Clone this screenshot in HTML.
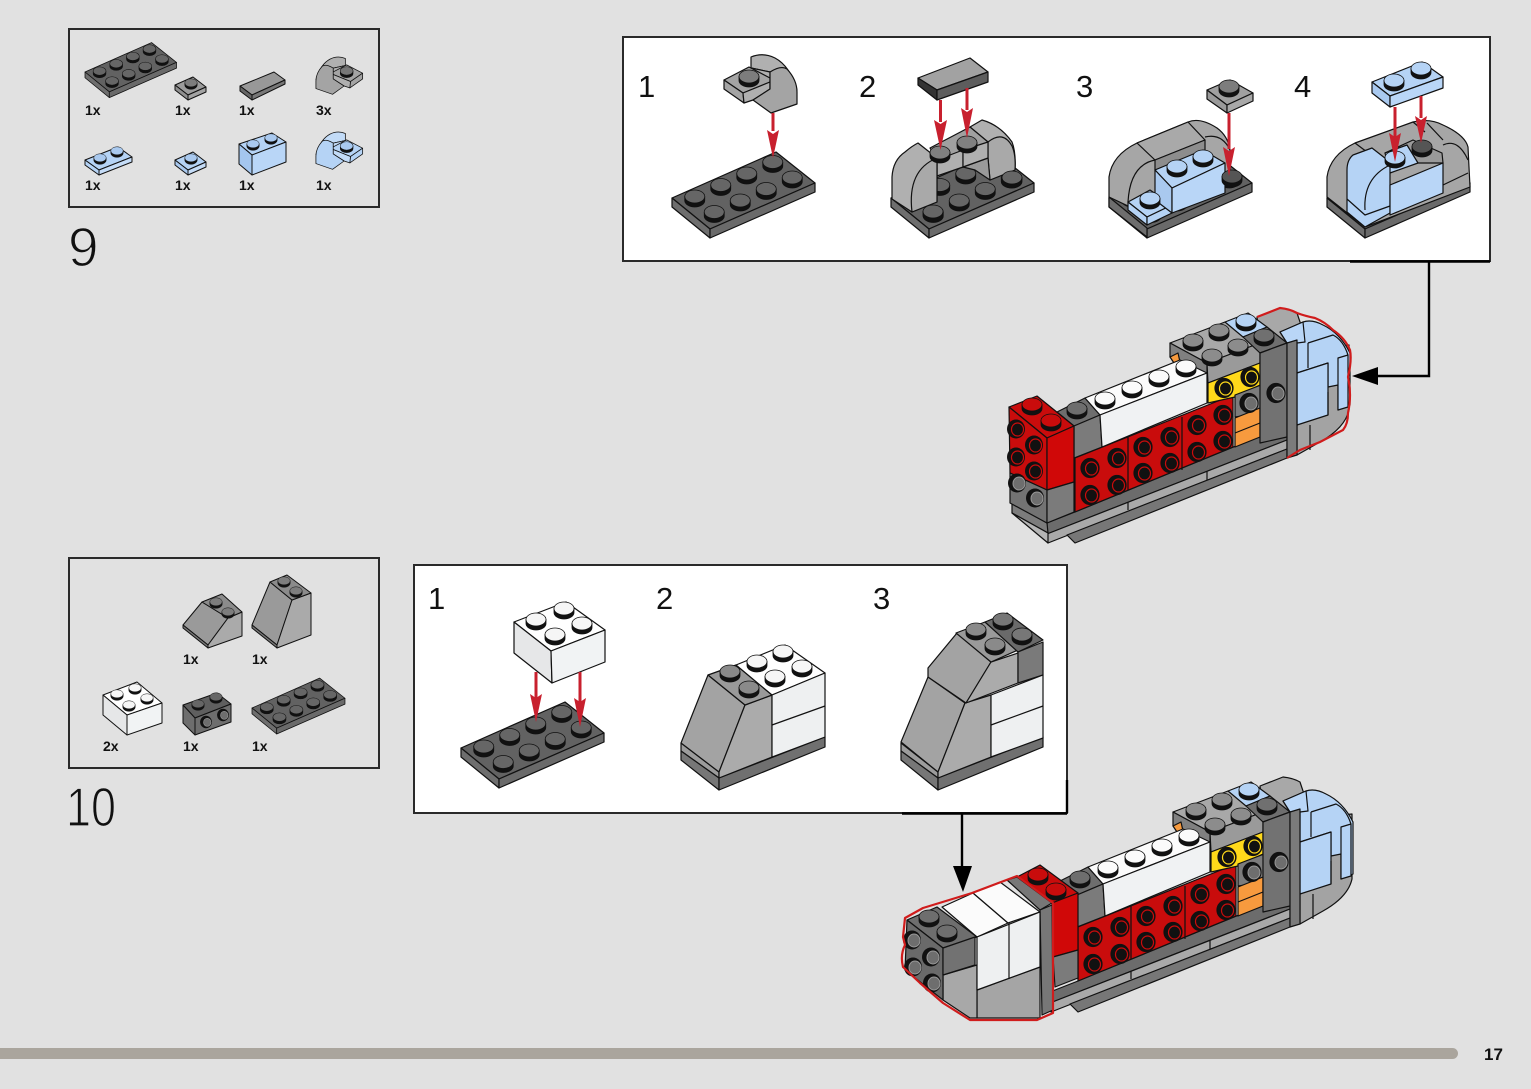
<!DOCTYPE html>
<html><head><meta charset="utf-8"><style>
html,body{margin:0;padding:0;background:#e1e1e1}
svg{display:block}
text{font-family:"Liberation Sans",sans-serif;fill:#111;stroke:none}
.q{font-size:14px;font-weight:bold}
.n{font-size:31px}
.b{font-size:55px;stroke:#e1e1e1;stroke-width:1.3px}
</style></head><body>
<svg xmlns="http://www.w3.org/2000/svg" width="1531" height="1089" viewBox="0 0 1531 1089">
<defs>
<g id="s"><path d="M-10,-3.5V.5A10,6.5 0 0 0 10,.5V-3.5Z" fill="#111" stroke="#111" stroke-width=".8"/><ellipse cy="-3.5" rx="10" ry="6.5" stroke="#111" stroke-width=".8"/></g>
<g id="p24" stroke="#111" stroke-width="1.2" stroke-linejoin="round">
<polygon points="0,0 104,-46 143,-15 38,31" fill="#626262"/>
<polygon points="0,0 38,31 38,40 0,9" fill="#6e6e6e"/>
<polygon points="38,31 143,-15 143,-6 38,40" fill="#6a6a6a"/>
<g fill="#666">
<use href="#s" x="100.75" y="-32.5"/><use href="#s" x="74.75" y="-21"/><use href="#s" x="48.75" y="-9.5"/><use href="#s" x="120.25" y="-17"/><use href="#s" x="22.75" y="2"/><use href="#s" x="94.25" y="-5.5"/><use href="#s" x="68.25" y="6"/><use href="#s" x="42.25" y="17.5"/>
</g></g>
<g id="cv" stroke="#111" stroke-width="1.2" stroke-linejoin="round">
<path d="M751,68V57Q763,52 775,58Q790,66 797,90L790,80L770,72Z" style="fill:var(--b)"/>
<polygon points="751,68 770,72 770,85 751,80" style="fill:var(--b)"/>
<polygon points="724,80 749,67 770,78 770,82 743,93" style="fill:var(--a)"/>
<polygon points="724,80 743,93 744,103 724,89" style="fill:var(--a)"/>
<polygon points="743,93 770,82 770,89 753,100 744,103" style="fill:var(--b)"/>
<path d="M770,72Q781,65 787,69Q797,80 797,92V104L771,113L753,100L770,89Z" style="fill:var(--a)"/>
<use href="#s" x="749" y="80" style="fill:var(--c)"/>
</g>
<g id="hr"><ellipse rx="9" ry="9.5" fill="#111"/><ellipse cx="1.5" cy=".5" rx="6" ry="6.5" fill="none" stroke="#c90c0c" stroke-width="1.2"/></g>
<g id="hy"><ellipse rx="9" ry="9.5" fill="#111"/><ellipse cx="1.5" cy=".5" rx="6" ry="6.5" fill="none" stroke="#ffd91a" stroke-width="1.2"/></g>
<g id="hg"><ellipse rx="9" ry="9.5" fill="#111"/><ellipse cx="2" cy=".5" rx="6" ry="6.5" fill="#6e6e6e" stroke="#999" stroke-width="1"/></g>
<g id="body" stroke="#111" stroke-width="1.2" stroke-linejoin="round">
<path d="M1257,317L1280,308Q1290,309 1297,313L1306,340L1260,345Z" fill="#a8a8a8"/>
<path d="M1297,350L1349,345V410Q1345,428 1320,442L1297,455Z" fill="#a3a3a3"/>
<path d="M1280,332L1303,322Q1312,319 1323,325Q1340,333 1350,353V405L1338,410V385L1328,387V363L1297,373V343H1287Z" fill="#b5d3f5"/>
<polygon points="1280,332 1303,322 1305,342 1297,343 1287,343" fill="#b9d6f7"/>
<path d="M1308,343L1333,335Q1343,340 1348,355M1308,343V368" fill="none"/>
<polygon points="1297,373 1328,363 1328,415 1297,425" fill="#b5d3f5"/>
<polygon points="1338,358 1348,355 1348,407 1338,410" fill="#b5d3f5"/>
<path d="M1310,425V450M1328,415V392" fill="none"/>
<polygon points="1047,523 1075,512 1287,425 1287,440 1047,534" fill="#6c6c6c"/>
<polygon points="1047,534 1287,440 1287,449 1048,543" fill="#a9a9a9"/>
<polygon points="1067,535 1287,449 1287,458 1075,543" fill="#777"/>
<path d="M1128,502V510M1207,471V480" fill="none"/>
<polygon points="1170,343 1225,322 1260,343 1207,363" fill="#a8a8a8"/>
<polygon points="1170,343 1207,363 1207,382 1170,357" fill="#808080"/>
<polygon points="1170,357 1178,353 1180,362 1176,366" fill="#f79a3e"/>
<polygon points="1207,363 1260,343 1260,363 1208,383" fill="#9a9a9a"/>
<polygon points="1225,322 1248,313 1267,327 1243,337" fill="#b5d3f5"/>
<polygon points="1243,337 1267,327 1287,343 1260,353" fill="#6e6e6e"/>
<polygon points="1057,412 1085,398 1100,415 1074,426" fill="#6e6e6e"/>
<polygon points="1074,426 1100,415 1102,447 1074,458" fill="#7b7b7b"/>
<polygon points="1085,398 1180,360 1207,373 1100,415" fill="#fbfbfb"/>
<polygon points="1100,415 1207,373 1207,403 1102,447" fill="#f0f2f3"/>
<polygon points="1075,458 1233,395 1233,447 1075,512" fill="#c90c0c"/>
<path d="M1128,437V490M1182,417V470" fill="none"/>
<polygon points="1208,383 1260,363 1260,385 1235,397 1208,403" fill="#ffd91a"/>
<polygon points="1235,395 1287,375 1287,410 1235,417" fill="#7c7c7c"/>
<polygon points="1235,418 1260,408 1260,437 1235,447" fill="#f79a3e"/>
<path d="M1235,433L1260,423" fill="none"/>
<polygon points="1260,353 1287,343 1287,437 1260,443" fill="#727272"/>
<polygon points="1287,343 1297,340 1297,455 1287,458" fill="#7b7b7b"/>
<g fill="#111">
<use href="#hr" x="1090" y="468"/><use href="#hr" x="1117" y="458"/><use href="#hr" x="1090" y="495"/><use href="#hr" x="1117" y="485"/>
<use href="#hr" x="1143" y="447"/><use href="#hr" x="1170" y="437"/><use href="#hr" x="1143" y="473"/><use href="#hr" x="1170" y="463"/>
<use href="#hr" x="1197" y="425"/><use href="#hr" x="1223" y="415"/><use href="#hr" x="1197" y="452"/><use href="#hr" x="1223" y="441"/>
<use href="#hy" x="1224" y="388"/><use href="#hy" x="1250" y="377"/><use href="#hg" x="1249" y="403"/><use href="#hg" x="1276" y="393"/>
</g>
<use href="#s" x="1077" y="412" fill="#6e6e6e"/>
<g fill="#fbfbfb"><use href="#s" x="1186" y="370"/><use href="#s" x="1159" y="380"/><use href="#s" x="1132" y="391"/><use href="#s" x="1105" y="402"/></g>
<g fill="#8c8c8c"><use href="#s" x="1219" y="334"/><use href="#s" x="1193" y="344"/><use href="#s" x="1238" y="349"/><use href="#s" x="1212" y="359"/></g>
<use href="#s" x="1246" y="324" fill="#b5d3f5"/><use href="#s" x="1264" y="339" fill="#707070"/>
</g>
</defs>
<rect width="1531" height="1089" fill="#e1e1e1"/>
<rect x="-10" y="1048" width="1468" height="11" rx="5.5" fill="#aaa59d"/>
<text x="1484" y="1060" style="font-size:17px;font-weight:bold">17</text>

<rect x="69" y="29" width="310" height="178" fill="none" stroke="#2a2a2a" stroke-width="2"/>
<rect x="69" y="558" width="310" height="210" fill="none" stroke="#2a2a2a" stroke-width="2"/>
<rect x="623" y="37" width="867" height="224" fill="#fff" stroke="#2a2a2a" stroke-width="2"/>
<rect x="414" y="565" width="653" height="248" fill="#fff" stroke="#2a2a2a" stroke-width="2"/>

<text class="b" x="68" y="266">9</text>
<text class="b" x="66" y="826" textLength="50" lengthAdjust="spacingAndGlyphs">10</text>
<g><text class="n" x="638" y="97">1</text><text class="n" x="859" y="97">2</text><text class="n" x="1076" y="97">3</text><text class="n" x="1294" y="97">4</text>
<text class="n" x="428" y="609">1</text><text class="n" x="656" y="609">2</text><text class="n" x="873" y="609">3</text></g>
<g><text class="q" x="85" y="115">1x</text><text class="q" x="175" y="115">1x</text><text class="q" x="239" y="115">1x</text><text class="q" x="316" y="115">3x</text>
<text class="q" x="85" y="190">1x</text><text class="q" x="175" y="190">1x</text><text class="q" x="239" y="190">1x</text><text class="q" x="316" y="190">1x</text>
<text class="q" x="183" y="664">1x</text><text class="q" x="252" y="664">1x</text><text class="q" x="103" y="751">2x</text><text class="q" x="183" y="751">1x</text><text class="q" x="252" y="751">1x</text></g>

<!-- Parts box 9 -->
<use href="#p24" transform="translate(85,72) scale(.64)"/>
<g stroke="#111" stroke-width="1" stroke-linejoin="round">
<polygon points="175,85 193,77 206,87 188,95" fill="#9c9c9c"/><polygon points="175,85 188,95 188,100 175,90" fill="#8f8f8f"/><polygon points="188,95 206,87 206,92 188,100" fill="#a3a3a3"/>
<use href="#s" transform="translate(191,85) scale(.62)" fill="#7d7d7d"/>
<polygon points="240,86 274,72 285,80 252,95" fill="#989898"/><polygon points="240,86 252,95 252,100 240,91" fill="#666"/><polygon points="252,95 285,80 285,84 252,100" fill="#777"/>
<polygon points="85,160 118,147 132,157 99,170" fill="#b5d3f5"/><polygon points="85,160 99,170 99,175 85,165" fill="#b5d3f5"/><polygon points="99,170 132,157 132,162 99,175" fill="#c5dcf7"/>
<use href="#s" transform="translate(100,160) scale(.62)" fill="#a9c9ef"/><use href="#s" transform="translate(117,153) scale(.62)" fill="#a9c9ef"/>
<polygon points="175,160 193,152 206,162 188,170" fill="#b5d3f5"/><polygon points="175,160 188,170 188,175 175,165" fill="#a9c9ef"/><polygon points="188,170 206,162 206,167 188,175" fill="#c5dcf7"/>
<use href="#s" transform="translate(191,160) scale(.62)" fill="#a9c9ef"/>
<polygon points="239,144 272,133 286,142 252,155" fill="#b5d3f5"/><polygon points="239,144 252,155 252,175 239,164" fill="#a4c6ee"/><polygon points="252,155 286,142 286,162 252,175" fill="#b9d6f7"/>
<use href="#s" transform="translate(253,146) scale(.62)" fill="#a9c9ef"/><use href="#s" transform="translate(271,140) scale(.62)" fill="#a9c9ef"/>
</g>
<use href="#cv" transform="translate(826,22) scale(-.64,.64)" style="--a:#a4a4a4;--b:#b0b0b0;--c:#777"/>
<use href="#cv" transform="translate(826,97) scale(-.64,.64)" style="--a:#b5d3f5;--b:#c2dbf7;--c:#a9c9ef"/>

<!-- Parts box 10 -->
<use href="#p24" transform="translate(252,708) scale(.65)"/>
<g stroke="#111" stroke-width="1" stroke-linejoin="round">
<polygon points="183,625 202,602 228,618 208,645" fill="#9a9a9a"/><polygon points="183,625 208,645 208,648 183,628" fill="#777"/><polygon points="228,618 242,612 242,636 208,648 208,645" fill="#aaa"/>
<polygon points="202,602 222,594 242,612 228,618" fill="#8b8b8b"/>
<use href="#s" transform="translate(216,604) scale(.62)" fill="#7d7d7d"/><use href="#s" transform="translate(228,614) scale(.62)" fill="#7d7d7d"/>
<polygon points="252,625 270,582 292,600 277,645" fill="#9a9a9a"/><polygon points="252,625 277,645 277,648 252,628" fill="#777"/><polygon points="292,600 311,593 311,635 277,648 277,645" fill="#aaa"/>
<polygon points="270,582 287,575 311,593 292,600" fill="#8b8b8b"/>
<use href="#s" transform="translate(284,583) scale(.62)" fill="#7d7d7d"/><use href="#s" transform="translate(296,593) scale(.62)" fill="#7d7d7d"/>
<polygon points="103,695 137,682 162,703 127,715" fill="#fff"/><polygon points="103,695 127,715 127,735 103,715" fill="#e6e7e8"/><polygon points="127,715 162,703 162,723 127,735" fill="#f1f3f4"/>
<g fill="#f6f6f6"><use href="#s" transform="translate(135,690) scale(.62)"/><use href="#s" transform="translate(117,696) scale(.62)"/><use href="#s" transform="translate(147,700) scale(.62)"/><use href="#s" transform="translate(129,707) scale(.62)"/></g>
<polygon points="183,705 217,693 231,704 195,718" fill="#5f5f5f"/><polygon points="183,705 195,718 195,735 183,723" fill="#6e6e6e"/><polygon points="195,718 231,704 231,722 195,735" fill="#6e6e6e"/>
<use href="#s" transform="translate(216,699) scale(.62)" fill="#666"/><use href="#s" transform="translate(198,706) scale(.62)" fill="#666"/>
<use href="#hg" transform="translate(206,722) scale(.62)"/><use href="#hg" transform="translate(223,715) scale(.62)"/>
</g>

<!-- Step 9.1 -->
<use href="#p24" x="672" y="198"/>
<use href="#cv" style="--a:#a4a4a4;--b:#b0b0b0;--c:#7d7d7d"/>

<!-- Step 9.2 -->
<use href="#p24" x="891" y="198"/>
<g stroke="#111" stroke-width="1.2" stroke-linejoin="round">
<path d="M970,127L982,120Q1000,125 1012,142Q1016,152 1015,170L990,180L988,142Z" fill="#b0b0b0"/>
<path d="M988,142Q1003,130 1012,146Q1016,155 1015,170L990,180L988,158Z" fill="#a9a9a9"/>
<polygon points="963,167 988,158 990,180 975,170" fill="#9a9a9a"/>
<polygon points="930,148 970,127 988,142 963,158 937,160" fill="#a0a0a0"/>
<polygon points="937,160 963,150 963,167 937,176" fill="#b0b0b0"/>
<polygon points="963,150 988,142 988,158 963,167" fill="#b0b0b0"/>
<path d="M892,177Q893,160 905,152Q912,146 918,143L937,158V202L912,212L892,199Z" fill="#b0b0b0"/>
<path d="M937,158Q907,170 912,212L937,202Z" fill="#a9a9a9"/>
</g>
<g fill="#666"><use href="#s" x="1012" y="181"/><use href="#s" x="933" y="215"/></g>
<g fill="#808080"><use href="#s" x="967" y="146"/><use href="#s" x="940" y="156"/></g>
<g stroke="#111" stroke-width="1.2" stroke-linejoin="round">
<polygon points="918,78 970,58 988,72 937,90" fill="#a2a2a2"/><polygon points="918,78 937,90 937,100 918,85" fill="#333"/><polygon points="937,90 988,72 988,82 937,100" fill="#5d5d5d"/>
</g>

<!-- Step 9.3 -->
<use href="#p24" x="1109" y="198"/>
<g stroke="#111" stroke-width="1.2" stroke-linejoin="round">
<path d="M1109,197V177Q1112,155 1137,143L1188,122Q1200,117 1217,128Q1228,136 1230,150V170L1172,200L1147,215Z" fill="#a6a6a6"/>
<polygon points="1137,143 1188,122 1205,140 1155,160" fill="#a9a9a9"/>
<polygon points="1155,160 1205,140 1205,150 1155,170" fill="#8d8d8d"/>
<path d="M1155,160Q1130,165 1128,202M1205,137Q1222,133 1230,150" fill="none"/>
<polygon points="1109,197 1147,228 1147,237 1109,207" fill="#6e6e6e"/>
<polygon points="1128,202 1150,190 1172,205 1147,217" fill="#b5d3f5"/><polygon points="1128,202 1147,217 1147,225 1128,210" fill="#b5d3f5"/><polygon points="1147,217 1172,205 1172,213 1147,225" fill="#b5d3f5"/>
<polygon points="1155,170 1203,150 1225,163 1172,188" fill="#b5d3f5"/><polygon points="1155,170 1172,188 1172,213 1155,200" fill="#a9c9ef"/><polygon points="1172,188 1225,163 1225,193 1172,213" fill="#b9d6f7"/>
<polygon points="1207,90 1230,80 1253,93 1227,105" fill="#a0a0a0"/><polygon points="1207,90 1227,105 1227,113 1207,99" fill="#9a9a9a"/><polygon points="1227,105 1253,93 1253,101 1227,113" fill="#a8a8a8"/>
</g>
<use href="#s" x="1232" y="180" fill="#555"/>
<g fill="#b5d3f5"><use href="#s" x="1203" y="160"/><use href="#s" x="1177" y="170"/><use href="#s" x="1150" y="202"/></g>
<use href="#s" x="1229" y="90" fill="#7d7d7d"/>

<!-- Step 9.4 -->
<use href="#p24" x="1327" y="198"/>
<g stroke="#111" stroke-width="1.2" stroke-linejoin="round">
<path d="M1327,197V177Q1330,155 1355,143L1413,122Q1430,118 1443,125Q1465,135 1468,147L1470,187L1365,227Z" fill="#a6a6a6"/>
<path d="M1355,143L1367,152M1413,122L1425,132M1427,123L1443,140M1443,145Q1458,138 1468,160M1443,185L1468,173" fill="none"/>
<polygon points="1385,153 1413,140 1442,153 1443,163 1417,163" fill="#9a9a9a"/>
<polygon points="1385,153 1407,145 1418,163 1390,173" fill="#b5d3f5"/>
<path d="M1347,200V170Q1347,160 1353,155L1372,148L1390,162V213L1365,227L1347,212Z" fill="#b5d3f5"/>
<path d="M1365,210Q1363,178 1390,165M1347,199L1365,215L1390,206" fill="none"/>
<polygon points="1390,185 1443,163 1443,193 1390,215" fill="#b9d6f7"/>
<polygon points="1372,82 1422,62 1443,77 1390,96" fill="#b5d3f5"/><polygon points="1372,82 1390,96 1390,107 1372,93" fill="#a9c9ef"/><polygon points="1390,96 1443,77 1443,88 1390,107" fill="#b9d6f7"/>
</g>
<use href="#s" x="1422" y="150" fill="#555"/><use href="#s" x="1395" y="161" fill="#b5d3f5"/>
<g fill="#b5d3f5"><use href="#s" x="1421" y="72"/><use href="#s" x="1394" y="84"/></g>

<!-- Red arrows top -->
<g fill="#c8202e" stroke="none">
<path d="M771.5,113h3v18h-3z"/><polygon points="767,130 773,134 779,130 773,158"/>
<path d="M939,100h3v22h-3z"/><polygon points="934,120 940.5,124 947,120 940.5,150"/>
<path d="M965.5,88h3v22h-3z"/><polygon points="961,108 967,112 973,108 967,138"/>
<path d="M1227.5,113h3v36h-3z"/><polygon points="1223,147 1229,151 1235,147 1229,176"/>
<path d="M1393.5,107h3v36h-3z"/><polygon points="1389,133 1395,137 1401,133 1395,162"/>
<path d="M1419.5,96h3v22h-3z"/><polygon points="1415,116 1421,120 1427,116 1421,143"/>
</g>

<!-- Step 10.1 -->
<use href="#p24" x="461" y="748"/>
<g stroke="#111" stroke-width="1.2" stroke-linejoin="round">
<polygon points="514,622 566,602 605,630 551,651" fill="#fff"/><polygon points="514,622 551,651 552,683 514,653" fill="#e6e7e8"/><polygon points="551,651 605,630 605,662 552,683" fill="#f1f3f4"/>
</g>
<g fill="#f6f6f6"><use href="#s" x="564" y="612"/><use href="#s" x="536" y="623"/><use href="#s" x="582" y="627"/><use href="#s" x="555" y="638"/></g>
<g fill="#c8202e"><path d="M534.5,672h3v30h-3z"/><polygon points="530,694 536,698 542,694 536,722"/>
<path d="M578.5,672h3v30h-3z"/><polygon points="574,698 580,702 586,698 580,727"/></g>

<!-- Step 10.2 -->
<g stroke="#111" stroke-width="1.2" stroke-linejoin="round">
<polygon points="681,743 719,772 719,778 681,751" fill="#9c9c9c"/>
<polygon points="681,751 719,778 719,790 681,760" fill="#777"/>
<polygon points="719,778 825,737 825,747 719,790" fill="#707070"/>
<polygon points="708,675 681,743 719,772 745,705" fill="#a3a3a3"/>
<polygon points="745,705 772,695 772,757 719,778 719,772" fill="#ababab"/>
<polygon points="708,675 736,665 772,695 745,705" fill="#9a9a9a"/>
<polygon points="736,665 785,645 825,673 772,695" fill="#fff"/>
<polygon points="772,695 825,673 825,737 772,757" fill="#eef0f1"/>
<path d="M772,725L825,706" fill="none"/>
</g>
<g fill="#8a8a8a"><use href="#s" x="730" y="675"/><use href="#s" x="749" y="691"/></g>
<g fill="#f6f6f6"><use href="#s" x="783" y="655"/><use href="#s" x="757" y="665"/><use href="#s" x="802" y="670"/><use href="#s" x="775" y="680"/></g>

<!-- Step 10.3 -->
<g stroke="#111" stroke-width="1.2" stroke-linejoin="round">
<polygon points="901,743 938,772 938,778 901,751" fill="#9c9c9c"/>
<polygon points="901,751 938,778 938,790 901,760" fill="#777"/>
<polygon points="938,778 1043,737 1043,747 938,790" fill="#707070"/>
<polygon points="901,742 928,677 965,703 938,772" fill="#a3a3a3"/>
<polygon points="965,703 991,695 991,757 938,778 938,772" fill="#ababab"/>
<polygon points="928,668 957,633 991,662 966,703 928,677" fill="#a3a3a3"/>
<polygon points="991,662 1018,653 1018,683 966,703" fill="#ababab"/>
<polygon points="956,633 985,622 1018,650 991,662" fill="#9a9a9a"/>
<polygon points="985,622 1007,613 1043,640 1018,652" fill="#6a6a6a"/>
<polygon points="1018,652 1043,642 1043,675 1018,683" fill="#7a7a7a"/>
<polygon points="991,695 1043,675 1043,738 991,757" fill="#eef0f1"/>
<path d="M991,725L1043,706" fill="none"/>
</g>
<g fill="#777"><use href="#s" x="1003" y="623"/><use href="#s" x="1022" y="638"/></g>
<g fill="#8a8a8a"><use href="#s" x="976" y="633"/><use href="#s" x="995" y="648"/></g>

<!-- Assembly 1 -->
<use href="#body"/>
<g stroke="#111" stroke-width="1.2" stroke-linejoin="round">
<polygon points="1012,503 1047,523 1048,533 1012,513" fill="#7c7c7c"/>
<polygon points="1012,513 1048,533 1048,543" fill="#b5b5b5"/>
<polygon points="1009,407 1037,396 1074,426 1047,438" fill="#c90c0c"/>
<polygon points="1009,407 1047,438 1047,490 1010,473" fill="#c90c0c"/>
<polygon points="1047,438 1074,426 1074,482 1047,490" fill="#d00808"/>
<polygon points="1010,473 1047,490 1047,523 1010,503" fill="#737373"/>
<polygon points="1047,490 1074,482 1074,512 1047,523" fill="#7b7b7b"/>
</g>
<use href="#s" x="1032" y="408" fill="#c90c0c"/><use href="#s" x="1051" y="424" fill="#c90c0c"/>
<use href="#hr" x="1016" y="429"/><use href="#hr" x="1034" y="445"/><use href="#hr" x="1016" y="457"/><use href="#hr" x="1034" y="471"/><use href="#hg" x="1017" y="483"/><use href="#hg" x="1035" y="498"/>
<path d="M1257,317L1280,308Q1290,309 1297,313Q1305,316 1315,318Q1325,322 1333,330Q1345,338 1350,350Q1352,360 1348,377Q1352,395 1348,413Q1348,424 1343,430L1320,442L1300,450L1287,458" fill="none" stroke="#d01c1c" stroke-width="2.2"/>

<!-- Assembly 2 -->
<use href="#body" x="3" y="469"/>
<g stroke="#111" stroke-width="1.2" stroke-linejoin="round">
<polygon points="1017,877 1040,865 1078,893 1052,903" fill="#c90c0c"/>
<polygon points="1052,903 1078,893 1078,950 1053,957" fill="#d00808"/>
<polygon points="1053,957 1078,950 1078,978 1055,987" fill="#7b7b7b"/>
<polygon points="1007,880 1017,877 1052,903 1040,910" fill="#777"/>
<polygon points="1040,910 1052,905 1053,1010 1042,1015" fill="#777"/>
<polygon points="977,990 1040,967 1040,1018 977,1018" fill="#a5a5a5"/>
<polygon points="943,975 977,965 977,1018 970,1018 943,1000" fill="#a8a8a8"/>
<polygon points="942,907 973,893 1008,923 977,937" fill="#fbfbfb"/>
<polygon points="973,893 1000,882 1040,912 1008,923" fill="#fbfbfb"/>
<polygon points="977,937 1040,912 1040,967 977,990" fill="#eef0f1"/>
<path d="M1009,923V979" fill="none"/>
<polygon points="907,920 937,907 977,937 943,948" fill="#6e6e6e"/>
<polygon points="907,920 943,948 943,1000 905,970" fill="#6a6a6a"/>
<polygon points="943,948 975,937 975,965 943,975" fill="#727272"/>
</g>
<use href="#s" x="1038" y="878" fill="#c90c0c"/><use href="#s" x="1056" y="893" fill="#c90c0c"/>
<use href="#s" x="929" y="920" fill="#6e6e6e"/><use href="#s" x="947" y="935" fill="#6e6e6e"/>
<use href="#hg" x="912" y="940"/><use href="#hg" x="931" y="957"/><use href="#hg" x="913" y="967"/><use href="#hg" x="932" y="983"/>
<path d="M905,918L923,908L972,893L1017,876L1053,903V1013L1037,1020L970,1020L943,1003L920,983L903,967Q900,955 905,945L903,937Z" fill="none" stroke="#d01c1c" stroke-width="2.2" stroke-linejoin="round"/>

<!-- Connectors -->
<path d="M1350,261.5H1490M1429,262V376H1372" fill="none" stroke="#000" stroke-width="2.4"/>
<polygon points="1352,376 1378,367 1378,385" fill="#000"/>
<path d="M902,813.5H1067M1067,780V813M962,814V868" fill="none" stroke="#000" stroke-width="2.4"/>
<polygon points="953,866 972,866 963,892" fill="#000"/>
</svg>
</body></html>
